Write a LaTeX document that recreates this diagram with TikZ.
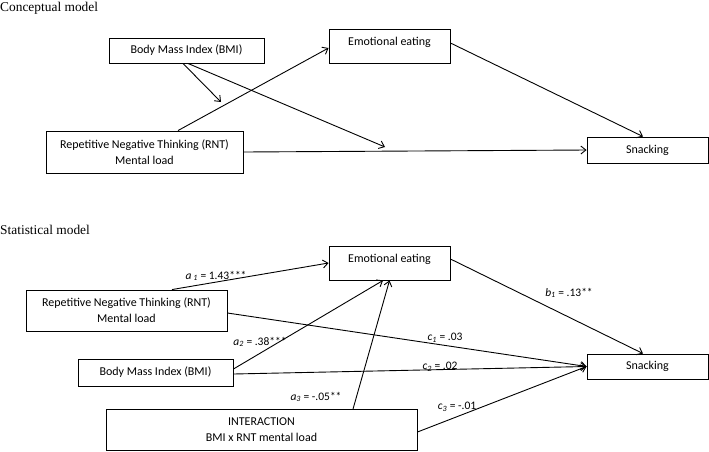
\documentclass[tikz,border=0pt]{standalone}
\usepackage{fontspec}
\setmainfont{Carlito}
\newfontfamily\titlefont{Liberation Serif}
\usetikzlibrary{arrows.meta}

\begin{document}
\begin{tikzpicture}[x=1pt,y=-1pt,
  box/.style={draw,line width=0.9pt,inner sep=0pt,align=center,font=\fontsize{12}{16}\selectfont},
  arr/.style={line width=0.9pt,-{Straight Barb[length=5pt,width=8pt]}},
  lbl/.style={inner sep=0pt,font=\fontsize{11.5}{13}\selectfont},
  heading/.style={anchor=base west,inner sep=0pt,font=\titlefont\fontsize{13.4}{16}\selectfont}]
\useasboundingbox (0,0) rectangle (709,451);

% conceptual model
\node[heading] (title1) at (0,11) {Conceptual model};
\node[box,minimum width=155pt,minimum height=25pt] (bmi1) at (186.5,50.5) {Body Mass Index (BMI)};
\node[box,minimum width=121pt,minimum height=34pt,text depth=9pt] (ee1) at (389.5,46) {Emotional eating};
\node[box,minimum width=197pt,minimum height=42pt] (rnt1) at (144.5,152) {Repetitive Negative Thinking (RNT)\\Mental load};
\node[box,minimum width=121pt,minimum height=26pt] (snack1) at (647.5,150) {Snacking};
\coordinate (mod1) at (221,102);
\coordinate (mod2) at (385,147);
\draw[arr] ([xshift=-3.5pt]bmi1.south) -- (mod1);
\draw[arr] ([xshift=1.5pt]bmi1.south) -- (mod2);
\draw[arr] ([xshift=33.5pt]rnt1.north) -- ([yshift=-2pt]ee1.west);
\draw[arr] (rnt1.east) -- (snack1.west);
\draw[arr] ([yshift=3pt]ee1.east) -- ([xshift=-4.5pt]snack1.north);

% statistical model
\node[heading] (title2) at (0,234) {Statistical model};
\node[box,minimum width=121pt,minimum height=34pt,text depth=9pt] (ee2) at (389.5,263) {Emotional eating};
\node[box,minimum width=201pt,minimum height=41pt] (rnt2) at (126.5,310.5) {Repetitive Negative Thinking (RNT)\\Mental load};
\node[box,minimum width=155pt,minimum height=27pt] (bmi2) at (155.5,372.5) {Body Mass Index (BMI)};
\node[box,minimum width=311pt,minimum height=41pt] (inter2) at (261.5,430) {INTERACTION\\BMI x RNT mental load};
\node[box,minimum width=121pt,minimum height=25pt] (snack2) at (647.5,366.5) {Snacking};
\draw[arr] ([xshift=45.5pt]rnt2.north) -- (ee2.west);
\draw[arr] ([yshift=-2.5pt]rnt2.east) -- (snack2.west);
\draw[arr] ([yshift=3.5pt]bmi2.east) -- ([xshift=-6.5pt]ee2.south);
\draw[arr] ([yshift=-1.5pt]bmi2.east) -- (snack2.west);
\draw[arr] ([xshift=91.5pt]inter2.north) -- (ee2.south);
\draw[arr] ([yshift=-2pt]inter2.east) -- (snack2.west);
\draw[arr] ([yshift=4pt]ee2.east) -- ([xshift=-4.5pt]snack2.north);
\node[lbl] (a1) at (216,276) {\textit{a}\,\textsubscript{\textit{1}} = 1.43***};
\node[lbl] (a2) at (260,342) {\textit{a}\textsubscript{\textit{2}} = .38***};
\node[lbl] (a3) at (316,397) {\textit{a}\textsubscript{\textit{3}} = -.05**};
\node[lbl] (b1) at (569,293) {\textit{b}\textsubscript{\textit{1}} = .13**};
\node[lbl] (c1) at (445,338) {\textit{c}\textsubscript{\textit{1}} = .03};
\node[lbl] (c2) at (440,367) {\textit{c}\textsubscript{\textit{2}} = .02};
\node[lbl] (c3) at (457,407) {\textit{c}\textsubscript{\textit{3}} = -.01};
\end{tikzpicture}
\end{document}
